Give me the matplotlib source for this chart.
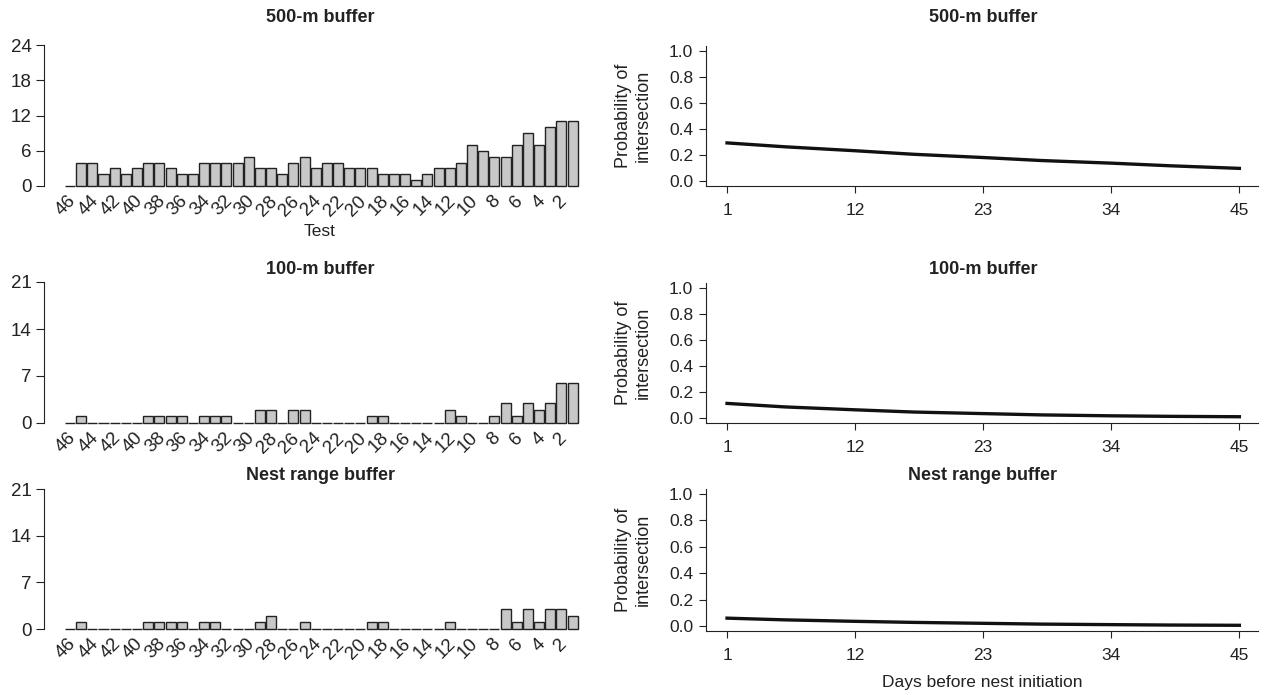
import matplotlib
matplotlib.use("Agg")
import matplotlib.pyplot as plt
import numpy as np

plt.rcParams["font.family"] = ["Liberation Sans", "DejaVu Sans"]

# giorni prima dell'inizio del nido (barre: da 46 a 1)
giorni = list(range(46, 0, -1))
etichette = [str(g) if g % 2 == 0 else "" for g in giorni]

conta_500 = [0, 4, 4, 2, 3, 2, 3, 4, 4, 3, 2, 2, 4, 4, 4, 4, 5, 3, 3, 2, 4, 5, 3,
             4, 4, 3, 3, 3, 2, 2, 2, 1, 2, 3, 3, 4, 7, 6, 5, 5, 7, 9, 7, 10, 11, 11]
conta_100 = [0, 1, 0, 0, 0, 0, 0, 1, 1, 1, 1, 0, 1, 1, 1, 0, 0, 2, 2, 0, 2, 2, 0,
             0, 0, 0, 0, 1, 1, 0, 0, 0, 0, 0, 2, 1, 0, 0, 1, 3, 1, 3, 2, 3, 6, 6]
conta_nido = [0, 1, 0, 0, 0, 0, 0, 1, 1, 1, 1, 0, 1, 1, 0, 0, 0, 1, 2, 0, 0, 1, 0,
              0, 0, 0, 0, 1, 1, 0, 0, 0, 0, 0, 1, 0, 0, 0, 0, 3, 1, 3, 1, 3, 3, 2]

# curve di probabilita'
giorni_curva = [1, 6, 12, 17, 23, 28, 34, 39, 45]
prob_500 = [0.295, 0.265, 0.235, 0.208, 0.183, 0.160, 0.140, 0.120, 0.100]
prob_100 = [0.115, 0.088, 0.066, 0.049, 0.037, 0.027, 0.020, 0.016, 0.013]
prob_nido = [0.062, 0.049, 0.038, 0.030, 0.023, 0.017, 0.013, 0.010, 0.008]

titoli = ["500-m buffer", "100-m buffer", "Nest range buffer"]
conte = [conta_500, conta_100, conta_nido]
probs = [prob_500, prob_100, prob_nido]
ymax_barre = [24, 21, 21]
passo_barre = [6, 7, 7]

W, H = 1265, 695
fig = plt.figure(figsize=(W / 100, H / 100), dpi=100)
scuro = "#222222"

# posizioni in pixel (top, bottom) per le righe
righe_sx = [(45, 186), (282, 423), (489, 629)]
righe_dx = [(46, 186), (283, 423), (489, 631)]
titolo_y = [18, 270, 475]


def box(x0, x1, top, bot):
    return [x0 / W, 1 - bot / H, (x1 - x0) / W, (bot - top) / H]


for r in range(3):
    # ---- barre a sinistra
    ax = fig.add_axes(box(44, 596, *righe_sx[r]))
    x = np.arange(len(giorni))
    ax.bar(x, conte[r], width=0.9, color="#c8c8c8", edgecolor=scuro,
           linewidth=1.0, clip_on=False)
    ax.set_xlim(-2.33, 47.1)
    ax.set_ylim(0, ymax_barre[r])
    ax.set_yticks(np.arange(0, ymax_barre[r] + 1, passo_barre[r]))
    ax.spines[["top", "right", "bottom"]].set_visible(False)
    ax.spines["left"].set_color(scuro)
    ax.set_xticks(x[::2] + 0.3)
    ax.set_xticklabels([etichette[i] for i in range(0, len(giorni), 2)],
                       rotation=45, ha="right", va="center",
                       rotation_mode="anchor")
    ax.tick_params(axis="x", length=0, pad=9, labelsize=13.5, colors=scuro)
    ax.tick_params(axis="y", length=6, labelsize=13.5, colors=scuro, pad=3)
    if r == 0:
        ax.set_xlabel("Test", fontsize=12.5, color=scuro, labelpad=3)
    fig.text(320 / W, 1 - titolo_y[r] / H, titoli[r], ha="center",
             va="center", fontsize=13, fontweight="bold", color=scuro)

    # ---- curve a destra
    ax2 = fig.add_axes(box(705.5, 1258, *righe_dx[r]))
    ax2.plot(giorni_curva, probs[r], color="#111111", linewidth=2.4)
    ax2.set_xlim(-0.85, 46.6)
    ax2.set_ylim(-0.035, 1.037)
    ax2.set_xticks([1, 12, 23, 34, 45])
    ax2.set_yticks(np.arange(0, 1.01, 0.2))
    ax2.set_yticklabels([f"{v:.1f}" for v in np.arange(0, 1.01, 0.2)])
    ax2.spines[["top", "right"]].set_visible(False)
    ax2.spines[["left", "bottom"]].set_color(scuro)
    ax2.tick_params(length=5, labelsize=12.5, colors=scuro, pad=4)
    ax2.tick_params(axis="x", pad=7)
    ax2.set_ylabel("Probability of\nintersection", fontsize=13, color=scuro,
                   labelpad=12, linespacing=1.2)
    if r == 2:
        ax2.set_xlabel("Days before nest initiation", fontsize=12.5,
                       color=scuro, labelpad=9)
    fig.text(983 / W, 1 - titolo_y[r] / H, titoli[r], ha="center",
             va="center", fontsize=13, fontweight="bold", color=scuro)

fig.savefig("out.png", dpi=100, facecolor="white")
